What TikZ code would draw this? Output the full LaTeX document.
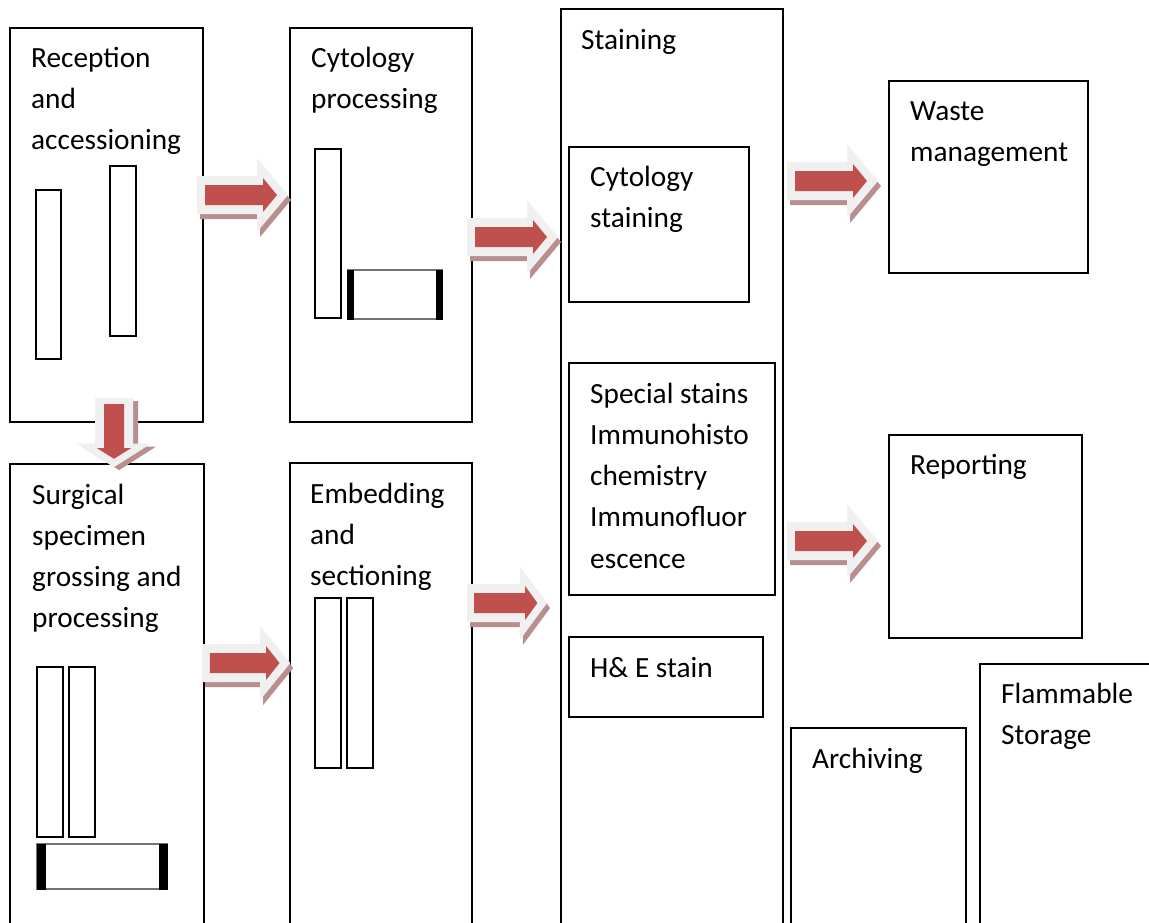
\documentclass[tikz,border=0pt]{standalone}
\usepackage{fontspec}
\setmainfont{Carlito}
\newcommand\mlines[1]{\vtop{\baselineskip=41.3pt\lineskiplimit=-50pt\lineskip=0pt\halign{##\hfil\cr#1\crcr}}}
\definecolor{argrey}{RGB}{240,240,240}
\definecolor{arshadow}{RGB}{183,143,142}
\definecolor{arred}{RGB}{192,80,77}
\newcommand\outershape[1]{\fill[#1] (0,-19) -- (60,-19) -- (60,-37) -- (91,0) -- (60,37) -- (60,19) -- (0,19) -- cycle;}
\newcommand\innershape[1]{\fill[#1] (8,-10) -- (66,-10) -- (66,-17) -- (80,0) -- (66,17) -- (66,10) -- (8,10) -- cycle;}
% x, y, xscale, rotate, shadow dx, shadow dy
\newcommand\blockarrow[6]{%
  \begin{scope}[shift={(#1+#5,#2+#6)},rotate=#4,xscale=#3]\outershape{arshadow}\end{scope}
  \begin{scope}[shift={(#1,#2)},rotate=#4,xscale=#3]\outershape{argrey}\innershape{arred}\end{scope}}
\begin{document}
\begin{tikzpicture}[x=1pt,y=-1pt,
  room/.style={draw=black, line width=1.6pt, inner sep=0pt, outer sep=0pt},
  lbl/.style={anchor=base west, inner sep=0pt, font=\fontsize{29.3}{41.3}\selectfont, text=black},
  rack/.style={draw=black, line width=1.6pt},
  bench/.style={draw=black!55, line width=1.2pt},
]
\useasboundingbox (0,0) rectangle (1149,922);
\clip (0,0) rectangle (1149,922);
\fill[white] (0,0) rectangle (1149,922);

% rooms
\node[room, minimum width=193, minimum height=394] (rec) at (106.5,225) {};
\node[room, minimum width=182, minimum height=394] (cyt) at (381,225) {};
\node[room, minimum width=222, minimum height=931] (stn) at (672,474.5) {};
\node[room, minimum width=180, minimum height=155] (cst) at (659,224.5) {};
\node[room, minimum width=206, minimum height=232] (spc) at (672,479) {};
\node[room, minimum width=194, minimum height=80] (hne) at (666,677) {};
\node[room, minimum width=199, minimum height=192] (wst) at (988.5,177) {};
\node[room, minimum width=193, minimum height=203] (rep) at (985.5,536.5) {};
\node[room, minimum width=175, minimum height=212] (arc) at (878.5,834) {};
\node[room, minimum width=180, minimum height=276] (flm) at (1070,802) {};
\node[room, minimum width=194, minimum height=476] (sur) at (107,702) {};
\node[room, minimum width=182, minimum height=477] (emb) at (381,701.5) {};

% labels
\node[lbl] (recT) at (31,67) {\mlines{Reception\cr and\cr accessioning}};
\node[lbl] (cytT) at (311,67) {\mlines{Cytology\cr processing}};
\node[lbl] (stnT) at (581,49) {Staining};
\node[lbl] (cstT) at (590,186) {\mlines{Cytology\cr staining}};
\node[lbl] (spcT) at (590,403) {\mlines{Special stains\cr Immunohisto\cr chemistry\cr Immunofluor\cr escence}};
\node[lbl] (hneT) at (590,677) {H\& E stain};
\node[lbl] (wstT) at (910,120) {\mlines{Waste\cr management}};
\node[lbl] (repT) at (910,474) {Reporting};
\node[lbl] (arcT) at (812,768) {Archiving};
\node[lbl] (flmT) at (1001,703) {\mlines{Flammable\cr Storage}};
\node[lbl] (surT) at (32,504) {\mlines{Surgical\cr specimen\cr grossing and\cr processing}};
\node[lbl] (embT) at (310,503) {\mlines{Embedding\cr and\cr sectioning}};

% racks
\draw[rack] (36,190) rectangle (61,359);
\draw[rack] (110,166) rectangle (136,336);
\draw[rack] (315,149) rectangle (341,318);
\draw[rack] (37,667) rectangle (63,837);
\draw[rack] (69,667) rectangle (95,837);
\draw[rack] (315,598) rectangle (341,768);
\draw[rack] (347,598) rectangle (373,768);

% benches
\draw[bench] (348,270) rectangle (442,319);
\fill[black] (347,270) rectangle (354,319.5);
\fill[black] (436,270) rectangle (443,319.5);
\draw[bench] (37,844) rectangle (167,889);
\fill[black] (37,844) rectangle (46,889.5);
\fill[black] (159,844) rectangle (168,889.5);

% block arrows
\blockarrow{197}{195}{1}{0}{3}{5}
\blockarrow{467}{237}{1}{0}{3}{5}
\blockarrow{787}{181}{1}{0}{3}{5}
\blockarrow{787}{541}{1}{0}{3}{5}
\blockarrow{467}{603}{0.88}{0}{3}{5}
\blockarrow{202}{663}{0.97}{0}{3}{5}
\blockarrow{114}{398}{0.76}{-90}{5}{3}
\end{tikzpicture}
\end{document}
